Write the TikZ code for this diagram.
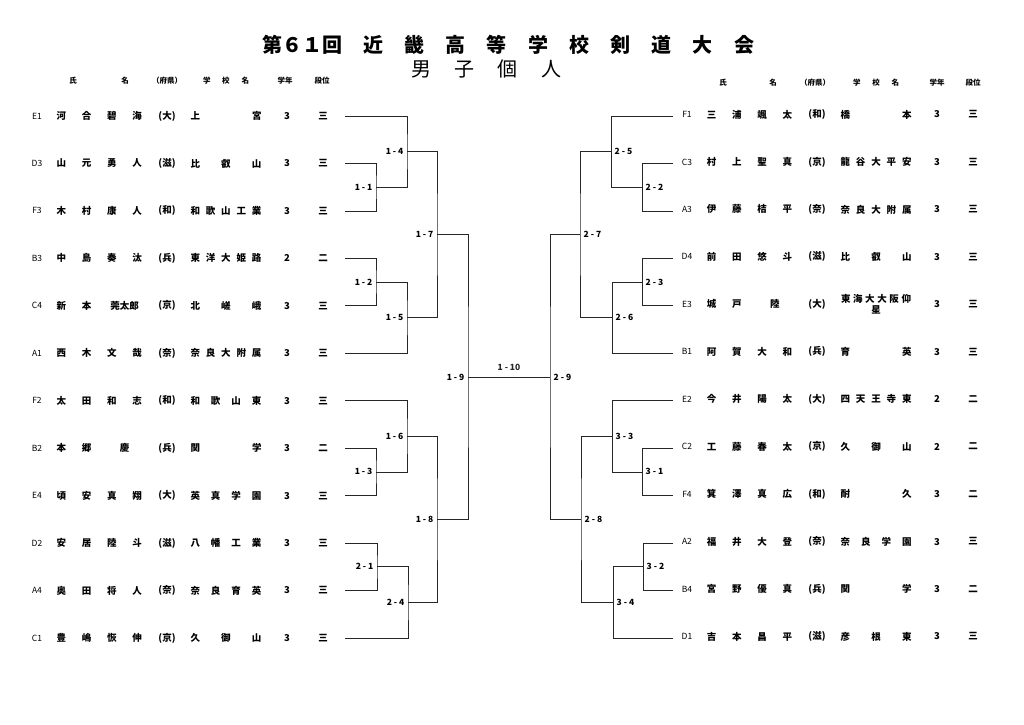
\documentclass[tikz,border=0pt]{standalone}
\usepackage{fontspec}
\setmainfont{Noto Sans CJK JP}
\usetikzlibrary{positioning}

\newcommand\nslot[1]{\makebox[25.3pt]{#1}}
\newcommand\nwide[1]{\makebox[50.6pt]{#1}}
\newcommand\fourname[4]{\nslot{#1}\nslot{#2}\nslot{#3}\nslot{#4}}

\tikzset{
  entry/.style={inner sep=0pt, font=\fontsize{9.5}{11}\selectfont\bfseries},
  code/.style={inner sep=0pt, font=\fontsize{8.5}{9}\selectfont},
  head/.style={inner sep=0pt, font=\fontsize{7.5}{8}\selectfont\bfseries},
  score/.style={inner sep=0pt, font=\fontsize{8.5}{9}\selectfont\bfseries},
  bracket/.style={line width=0.8pt, black!85},
}

\begin{document}
\begin{tikzpicture}[x=1pt,y=-1pt]
  \fill[white] (0,0) rectangle (1024,724);
  \useasboundingbox (0,0) rectangle (1024,724);

  % title
  \path (508,45) node[inner sep=0pt,font=\fontsize{20}{20}\selectfont\bfseries] (title)
    {\makebox[492pt]{第６１回\hfill 近\hfill 畿\hfill 高\hfill 等\hfill 学\hfill 校\hfill 剣\hfill 道\hfill 大\hfill 会}};
  \path (486,69) node[inner sep=0pt,font=\fontsize{20}{20}\selectfont] (subtitle)
    {\makebox[150pt]{男\hfill 子\hfill 個\hfill 人}};

  % column heads
  \path (73,81) node[head] (lh1) {氏};
  \path (125,81) node[head] (lh2) {名};
  \path (167,81) node[head] (lh3) {（府県）};
  \path (226,81) node[head] (lh4) {\makebox[46pt]{学\hfill 校\hfill 名}};
  \path (285,81) node[head] (lh5) {学年};
  \path (322,81) node[head] (lh6) {段位};
  \path (723,83) node[head] (rh1) {氏};
  \path (773,83) node[head] (rh2) {名};
  \path (815,83) node[head] (rh3) {（府県）};
  \path (876,83) node[head] (rh4) {\makebox[46pt]{学\hfill 校\hfill 名}};
  \path (937,83) node[head] (rh5) {学年};
  \path (973,83) node[head] (rh6) {段位};

  % left players
  \foreach \i/\cd/\nm/\pf/\sc/\gr/\dn in {
    1/E1/{\fourname 河合碧海}/大/{上\hfill 宮}/3/三,
    2/D3/{\fourname 山元勇人}/滋/{比\hfill 叡\hfill 山}/3/三,
    3/F3/{\fourname 木村康人}/和/{和\hfill 歌\hfill 山\hfill 工\hfill 業}/3/三,
    4/B3/{\fourname 中島奏汰}/兵/{東\hfill 洋\hfill 大\hfill 姫\hfill 路}/2/二,
    5/C4/{\nslot{新}\nslot{本}\nwide{莞太郎}}/京/{北\hfill 嵯\hfill 峨}/3/三,
    6/A1/{\fourname 西木文哉}/奈/{奈\hfill 良\hfill 大\hfill 附\hfill 属}/3/三,
    7/F2/{\fourname 太田和志}/和/{和\hfill 歌\hfill 山\hfill 東}/3/三,
    8/B2/{\nslot{本}\nslot{郷}\nwide{慶}}/兵/{関\hfill 学}/3/二,
    9/E4/{\fourname 頃安真翔}/大/{英\hfill 真\hfill 学\hfill 園}/3/三,
    10/D2/{\fourname 安居陸斗}/滋/{八\hfill 幡\hfill 工\hfill 業}/3/三,
    11/A4/{\fourname 奥田将人}/奈/{奈\hfill 良\hfill 育\hfill 英}/3/三,
    12/C1/{\fourname 豊嶋恢伸}/京/{久\hfill 御\hfill 山}/3/三}
  {
    \pgfmathsetmacro\yy{116+47.45*(\i-1)}
    \path (37,\yy) node[code] (lcode\i) {\cd};
    \path (99.3,\yy) node[entry] (lname\i) {\nm};
    \path (167,\yy) node[entry] (lpref\i) {(\pf)};
    \path (226,\yy) node[entry] (lschool\i) {\makebox[71pt]{\sc}};
    \path (287,\yy) node[entry] (lgrade\i) {\gr};
    \path (323,\yy) node[entry] (ldan\i) {\dn};
    \coordinate (L\i) at (345,\yy);
  }

  % right players
  \foreach \i/\cd/\nm/\pf/\sc/\gr/\dn in {
    1/F1/{\fourname 三浦颯太}/和/{橋\hfill 本}/3/三,
    2/C3/{\fourname 村上聖真}/京/{龍\hfill 谷\hfill 大\hfill 平\hfill 安}/3/三,
    3/A3/{\fourname 伊藤桔平}/奈/{奈\hfill 良\hfill 大\hfill 附\hfill 属}/3/三,
    4/D4/{\fourname 前田悠斗}/滋/{比\hfill 叡\hfill 山}/3/三,
    5/E3/{\nslot{城}\nslot{戸}\nwide{陸}}/大/{\hfill\shortstack{\makebox[70pt]{東\hfill 海\hfill 大\hfill 大\hfill 阪\hfill 仰}\\星}\hfill}/3/三,
    6/B1/{\fourname 阿賀大和}/兵/{育\hfill 英}/3/三,
    7/E2/{\fourname 今井陽太}/大/{四\hfill 天\hfill 王\hfill 寺\hfill 東}/2/二,
    8/C2/{\fourname 工藤春太}/京/{久\hfill 御\hfill 山}/2/二,
    9/F4/{\fourname 箕澤真広}/和/{耐\hfill 久}/3/二,
    10/A2/{\fourname 福井大登}/奈/{奈\hfill 良\hfill 学\hfill 園}/3/三,
    11/B4/{\fourname 宮野優真}/兵/{関\hfill 学}/3/二,
    12/D1/{\fourname 吉本昌平}/滋/{彦\hfill 根\hfill 東}/3/三}
  {
    \pgfmathsetmacro\yy{116+47.45*(\i-1)}
    \pgfmathsetmacro\ty{\yy-1.5}
    \path (687,\ty) node[code] (rcode\i) {\cd};
    \path (749.5,\ty) node[entry] (rname\i) {\nm};
    \path (817,\ty) node[entry] (rpref\i) {(\pf)};
    \path (876,\ty) node[entry] (rschool\i) {\makebox[71pt]{\sc}};
    \path (937,\ty) node[entry] (rgrade\i) {\gr};
    \path (973,\ty) node[entry] (rdan\i) {\dn};
    \coordinate (R\i) at (673,\yy);
  }

  % match joints
  \coordinate (m11) at (376,187.2);
  \coordinate (m12) at (376,282.1);
  \coordinate (m13) at (376,471.9);
  \coordinate (m21) at (377,566.8);
  \coordinate (m14) at (407,151.6);
  \coordinate (m15) at (407,317.7);
  \coordinate (m16) at (407,436.3);
  \coordinate (m24) at (408,602.4);
  \coordinate (m17) at (437,234.6);
  \coordinate (m18) at (437,519.3);
  \coordinate (m19) at (468,377);
  \coordinate (m22) at (642,187.2);
  \coordinate (m23) at (642,282.1);
  \coordinate (m31) at (642,471.9);
  \coordinate (m32) at (643,566.8);
  \coordinate (m25) at (611,151.6);
  \coordinate (m26) at (612,317.7);
  \coordinate (m33) at (612,436.3);
  \coordinate (m34) at (613,602.4);
  \coordinate (m27) at (580,234.6);
  \coordinate (m28) at (581,519.3);
  \coordinate (m29) at (550,377);

  \begin{scope}[bracket]
    \draw (L2) -| (m11) |- (L3);
    \draw (L1) -| (m14) |- (m11);
    \draw (L4) -| (m12) |- (L5);
    \draw (L6) -| (m15) |- (m12);
    \draw (L8) -| (m13) |- (L9);
    \draw (L7) -| (m16) |- (m13);
    \draw (L10) -| (m21) |- (L11);
    \draw (L12) -| (m24) |- (m21);
    \draw (m14) -| (m17) |- (m15);
    \draw (m16) -| (m18) |- (m24);
    \draw (m17) -| (m19) |- (m18);
    \draw (R2) -| (m22) |- (R3);
    \draw (R1) -| (m25) |- (m22);
    \draw (R4) -| (m23) |- (R5);
    \draw (R6) -| (m26) |- (m23);
    \draw (R8) -| (m31) |- (R9);
    \draw (R7) -| (m33) |- (m31);
    \draw (R10) -| (m32) |- (R11);
    \draw (R12) -| (m34) |- (m32);
    \draw (m25) -| (m27) |- (m26);
    \draw (m33) -| (m28) |- (m34);
    \draw (m27) -| (m29) |- (m28);
    \draw (m19) -- node[score,above=6pt] (s110) {1\ -\ 10} (m29);
  \end{scope}

  % match numbers
  \path node[score,left=3.5pt of m11] (s11) {1\ -\ 1};
  \path node[score,left=3.5pt of m12] (s12) {1\ -\ 2};
  \path node[score,left=3.5pt of m13] (s13) {1\ -\ 3};
  \path node[score,left=3.5pt of m21] (s21) {2\ -\ 1};
  \path node[score,left=3.5pt of m14] (s14) {1\ -\ 4};
  \path node[score,left=3.5pt of m15] (s15) {1\ -\ 5};
  \path node[score,left=3.5pt of m16] (s16) {1\ -\ 6};
  \path node[score,left=3.5pt of m24] (s24) {2\ -\ 4};
  \path node[score,left=3.5pt of m17] (s17) {1\ -\ 7};
  \path node[score,left=3.5pt of m18] (s18) {1\ -\ 8};
  \path node[score,left=3.5pt of m19] (s19) {1\ -\ 9};
  \path node[score,right=3.5pt of m22] (s22) {2\ -\ 2};
  \path node[score,right=3.5pt of m23] (s23) {2\ -\ 3};
  \path node[score,right=3.5pt of m31] (s31) {3\ -\ 1};
  \path node[score,right=3.5pt of m32] (s32) {3\ -\ 2};
  \path node[score,right=3.5pt of m25] (s25) {2\ -\ 5};
  \path node[score,right=3.5pt of m26] (s26) {2\ -\ 6};
  \path node[score,right=3.5pt of m33] (s33) {3\ -\ 3};
  \path node[score,right=3.5pt of m34] (s34) {3\ -\ 4};
  \path node[score,right=3.5pt of m27] (s27) {2\ -\ 7};
  \path node[score,right=3.5pt of m28] (s28) {2\ -\ 8};
  \path node[score,right=3.5pt of m29] (s29) {2\ -\ 9};
\end{tikzpicture}
\end{document}
